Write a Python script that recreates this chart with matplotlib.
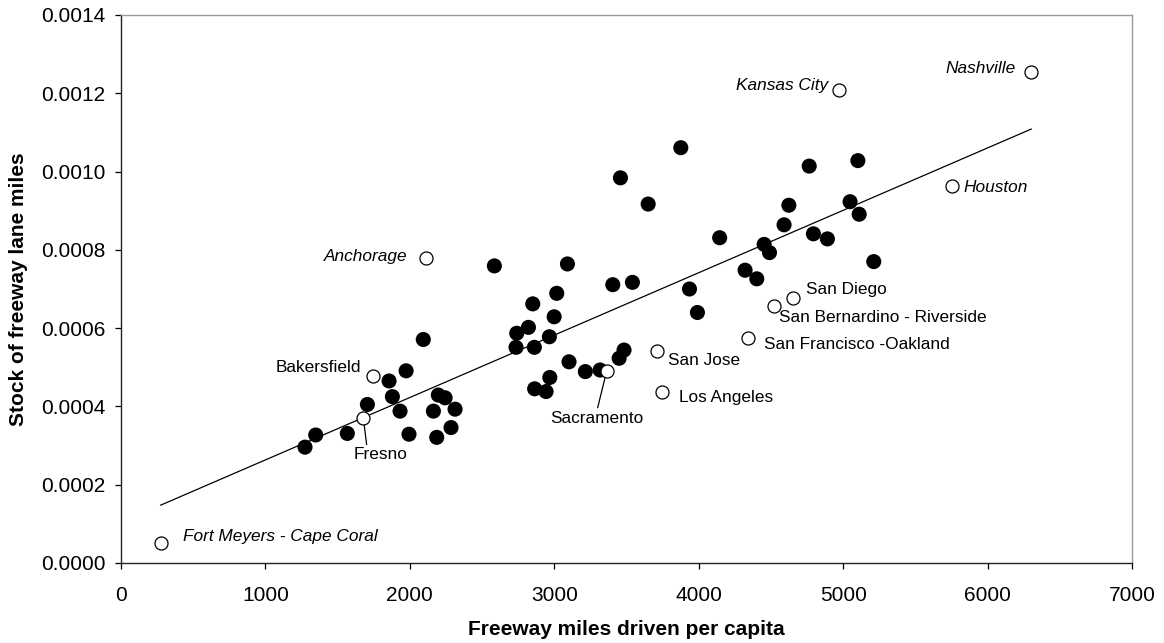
import numpy as np
import matplotlib
matplotlib.use("Agg")
import matplotlib.pyplot as plt
from matplotlib.ticker import FormatStrFormatter

plt.rcParams['font.family'] = ['Liberation Sans', 'DejaVu Sans']

# metro areas shown as filled dots (unlabelled)
miles_driven = [1274, 1348, 1567, 1706, 1856, 1879, 1932, 1974, 1994, 2093,
                2163, 2186, 2197, 2244, 2285, 2313, 2585, 2735, 2740, 2821,
                2851, 2862, 2864, 2943, 2966, 2969, 2999, 3017, 3091, 3102,
                3215, 3317, 3405, 3449, 3458, 3483, 3541, 3650, 3876, 3936,
                3991, 4145, 4321, 4402, 4453, 4490, 4591, 4624, 4765, 4794,
                4891, 5048, 5102, 5111, 5212]
lane_stock = [0.000296, 0.000327, 0.000331, 0.000405, 0.000465, 0.000425, 0.000388, 0.000491, 0.000329, 0.000571,
              0.000388, 0.000321, 0.000429, 0.000422, 0.000346, 0.000393, 0.000759, 0.000551, 0.000587, 0.000602,
              0.000662, 0.000551, 0.000445, 0.000438, 0.000578, 0.000474, 0.000629, 0.000689, 0.000764, 0.000514,
              0.000489, 0.000493, 0.000711, 0.000523, 0.000984, 0.000544, 0.000717, 0.000917, 0.001061, 0.000700,
              0.000640, 0.000831, 0.000748, 0.000726, 0.000814, 0.000793, 0.000864, 0.000914, 0.001014, 0.000841,
              0.000828, 0.000923, 0.001028, 0.000891, 0.000770]

# labelled metros (open circles)
cities = ['Fort Meyers - Cape Coral', 'Fresno', 'Bakersfield', 'Anchorage', 'Sacramento',
          'San Jose', 'Los Angeles', 'San Francisco -Oakland', 'San Bernardino - Riverside',
          'San Diego', 'Kansas City', 'Houston', 'Nashville']
city_miles = [275, 1678, 1747, 2110, 3363, 3714, 3744, 4344, 4524, 4652, 4968, 5753, 6302]
city_stock = [0.000052, 0.000370, 0.000479, 0.000778, 0.000491, 0.000542, 0.000436,
              0.000576, 0.000657, 0.000677, 0.001208, 0.000963, 0.001255]
city_italic = [True, False, False, True, False, False, False, False, False, False, True, True, True]

# fitted trend line
trend_intercept = 0.000104
trend_slope = 1.594e-7

# label placement: (dx, dy) in points, ha, leader line
label_style = {
    'Fort Meyers - Cape Coral': ((16, 4.3), 'left', None),
    'Fresno': ((12.7, -26.4), 'center', (0.24, 1.0)),
    'Bakersfield': ((-9, 5.8), 'right', None),
    'Anchorage': ((-13, 1.4), 'right', None),
    'Sacramento': ((-7, -34), 'center', (0.5, 1.0)),
    'San Jose': ((7.9, -6.7), 'left', None),
    'Los Angeles': ((12.7, -3.4), 'left', None),
    'San Francisco -Oakland': ((11.5, -5.3), 'left', None),
    'San Bernardino - Riverside': ((3.1, -8.5), 'left', None),
    'San Diego': ((9.4, 6.3), 'left', None),
    'Kansas City': ((-7.2, 3.6), 'right', None),
    'Houston': ((8.4, -1.2), 'left', None),
    'Nashville': ((-10.8, 2.4), 'right', None),
}

fig = plt.figure(figsize=(11.64, 6.43), dpi=100)
ax = fig.add_axes([121 / 1164, 1 - 563 / 643, 1011 / 1164, 548 / 643])

xs = np.array([min(city_miles + miles_driven), max(city_miles + miles_driven)])
ax.plot(xs, trend_intercept + trend_slope * xs, color='black', lw=0.9, zorder=2)

ax.scatter(miles_driven, lane_stock, s=118, color='black', edgecolors='none', zorder=3)
ax.scatter(city_miles, city_stock, s=88, facecolors='white', edgecolors='black',
           linewidths=0.9, zorder=4)

for name, x, y, it in zip(cities, city_miles, city_stock, city_italic):
    (dx, dy), ha, rel = label_style[name]
    arrow = None
    if rel is not None:
        arrow = dict(arrowstyle='-', color='black', lw=0.9, relpos=rel,
                     shrinkA=0, shrinkB=5)
    ax.annotate(name, (x, y), xytext=(dx, dy), textcoords='offset points',
                ha=ha, va='center', fontsize=12.4,
                style='italic' if it else 'normal', arrowprops=arrow, zorder=5)

ax.set_xlim(0, 7000)
ax.set_ylim(0, 0.0014)
ax.set_xticks(np.arange(0, 7001, 1000))
ax.set_yticks(np.arange(0, 0.00141, 0.0002))
ax.yaxis.set_major_formatter(FormatStrFormatter('%.4f'))
ax.tick_params(direction='out', length=4.3, width=0.9, labelsize=15,
               top=False, right=False)
ax.tick_params(axis='x', pad=12)
ax.tick_params(axis='y', pad=7)

for side in ['top', 'right']:
    ax.spines[side].set_color('#9a9a9a')
for side in ['left', 'bottom']:
    ax.spines[side].set_color('#222222')
for sp in ax.spines.values():
    sp.set_linewidth(1.0)

ax.set_xlabel('Freeway miles driven per capita', fontsize=15, fontweight='bold')
ax.set_ylabel('Stock of freeway lane miles', fontsize=15, fontweight='bold')
ax.xaxis.set_label_coords(0.5, -0.104)
ax.yaxis.set_label_coords(-0.092, 0.5)

plt.savefig('out.png', dpi=100)
